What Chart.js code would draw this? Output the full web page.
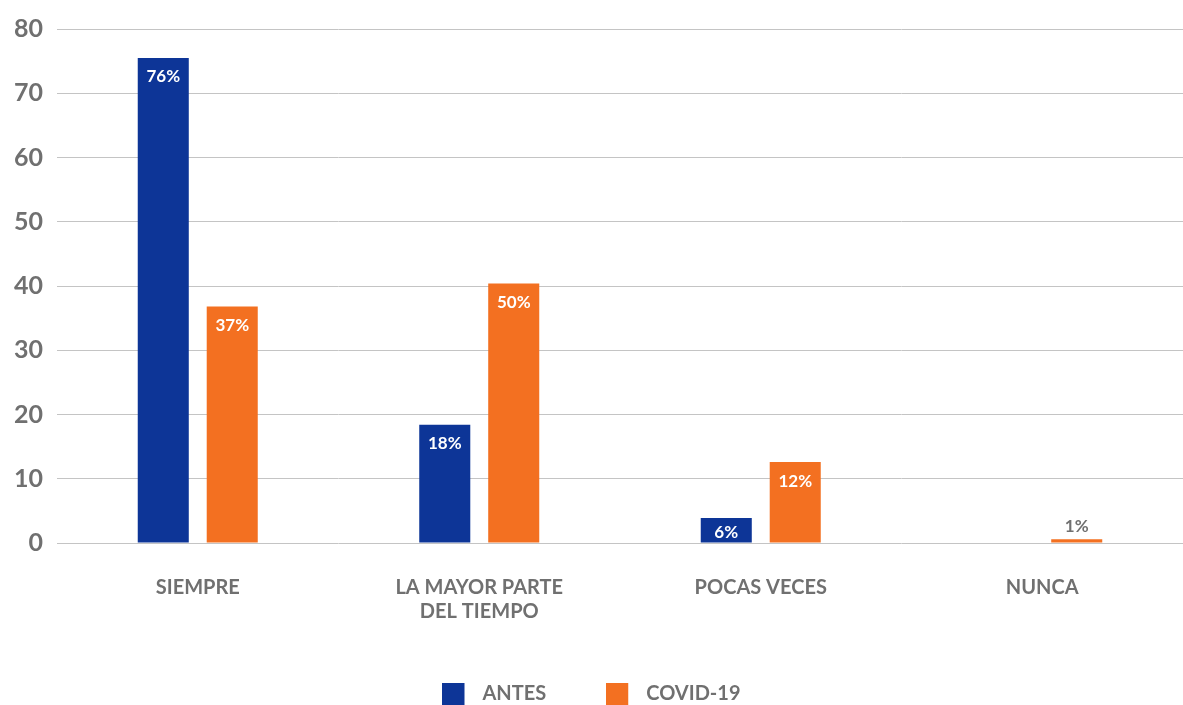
<!DOCTYPE html>
<html lang="es">
<head>
  <meta charset="UTF-8" />
  <title>Antes / COVID-19</title>
  <script src="https://cdn.jsdelivr.net/npm/chart.js"></script>
  <style>
    html, body { margin: 0; padding: 0; background: #fff; overflow: hidden; }
    #wrap { position: relative; width: 1183px; height: 714px; }
  </style>
</head>
<body>
<div id="wrap"><canvas id="chart"></canvas></div>

<script>
  // categorias y valores
  const categorias = ['SIEMPRE', ['LA MAYOR PARTE', 'DEL TIEMPO'], 'POCAS VECES', 'NUNCA'];
  const antes = [75.5, 18.4, 3.9, null];
  const covid = [36.8, 40.4, 12.6, 0.6];
  const etiquetasAntes = ['76%', '18%', '6%', ''];
  const etiquetasCovid = ['37%', '50%', '12%', '1%'];
  const ticksY = [0, 10, 20, 30, 40, 50, 60, 70, 80];

  const azul = '#0d3597';
  const naranja = '#f37021';
  const gris = '#707070';
  const fuente = 'Lato, "Open Sans", sans-serif';

  // cuadrado de leyenda con hueco a la derecha (separa el texto)
  function marca(color) {
    const c = document.createElement('canvas');
    c.width = 30;
    c.height = 22;
    const g = c.getContext('2d');
    g.fillStyle = color;
    g.fillRect(0, 0, 22, 22);
    return c;
  }
  const marcas = [marca(azul), marca(naranja)];

  // etiquetas de valor sobre/dentro de las barras
  const etiquetasPlugin = {
    id: 'etiquetas',
    afterDatasetsDraw(chart) {
      const ctx = chart.ctx;
      const textos = [etiquetasAntes, etiquetasCovid];
      ctx.save();
      ctx.font = 'bold 17px ' + fuente;
      ctx.textAlign = 'center';
      ctx.textBaseline = 'middle';
      chart.data.datasets.forEach((ds, i) => {
        chart.getDatasetMeta(i).data.forEach((bar, j) => {
          const t = textos[i][j];
          if (!t) return;
          const alto = bar.base - bar.y;
          if (alto > 30) {
            ctx.fillStyle = '#ffffff';
            ctx.fillText(t, bar.x, bar.y + 19);
          } else if (alto > 15) {
            ctx.fillStyle = '#ffffff';
            ctx.fillText(t, bar.x, bar.y + alto / 2 + 2);
          } else {
            ctx.fillStyle = gris;
            ctx.fillText(t, bar.x, bar.y - 13);
          }
        });
      });
      ctx.restore();
    }
  };

  new Chart(document.getElementById('chart'), {
    type: 'bar',
    data: {
      labels: categorias,
      datasets: [
        {
          label: 'ANTES',
          data: antes,
          backgroundColor: azul,
          categoryPercentage: 0.49,
          barPercentage: 0.74
        },
        {
          label: 'COVID-19',
          data: covid,
          backgroundColor: naranja,
          categoryPercentage: 0.49,
          barPercentage: 0.74
        }
      ]
    },
    options: {
      responsive: true,
      maintainAspectRatio: false,
      animation: false,
      layout: { padding: { left: 0, right: 0, top: 18, bottom: 0 } },
      plugins: {
        tooltip: { enabled: false },
        legend: {
          position: 'bottom',
          labels: {
            color: gris,
            font: { family: fuente, size: 20, weight: 'bold' },
            usePointStyle: true,
            pointStyleWidth: 30,
            padding: 60,
            generateLabels: (chart) => {
              const items = Chart.defaults.plugins.legend.labels.generateLabels(chart);
              items.forEach((it, i) => { it.pointStyle = marcas[i]; });
              return items;
            }
          }
        }
      },
      scales: {
        x: {
          grid: { display: false },
          border: { display: false },
          afterFit: (axis) => { axis.height -= 25; },
          ticks: {
            color: gris,
            font: { family: fuente, size: 20, weight: 'bold', lineHeight: 1.2 },
            padding: 25,
            maxRotation: 0
          }
        },
        y: {
          min: 0,
          max: 80,
          afterBuildTicks: (axis) => { axis.ticks = ticksY.map(v => ({ value: v })); },
          grid: { color: '#c4c4c4', lineWidth: 1, drawTicks: false },
          border: { display: false },
          ticks: {
            color: gris,
            font: { family: fuente, size: 25, weight: 'bold' },
            padding: 14
          }
        }
      }
    },
    plugins: [etiquetasPlugin]
  });
</script>
</body>
</html>
